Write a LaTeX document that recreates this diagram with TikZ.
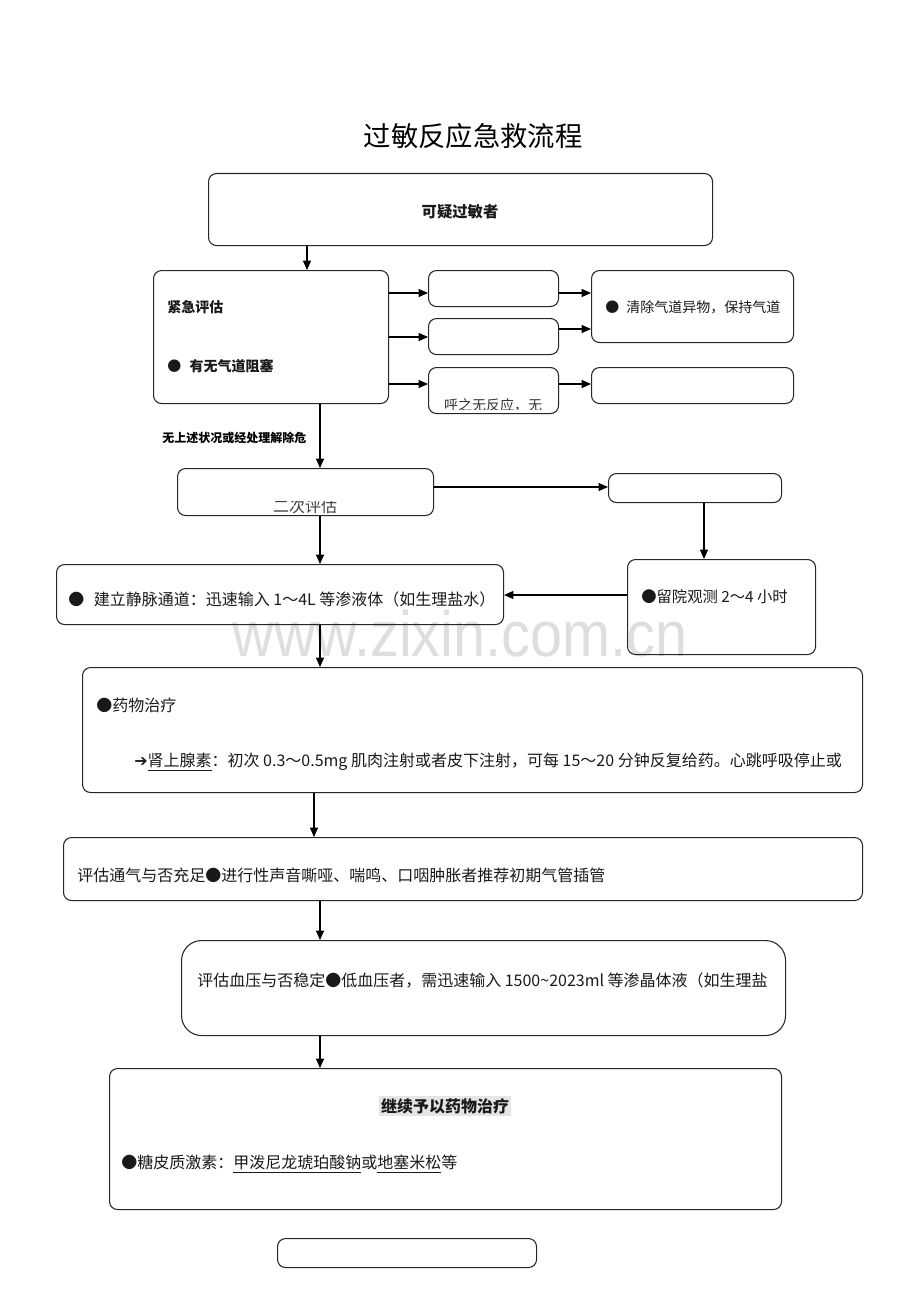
\documentclass[tikz,border=0pt]{standalone}
\usepackage{fontspec}
\setmainfont{Noto Sans CJK SC}
\newfontfamily\wm{Liberation Sans}
\newfontfamily\dv{DejaVu Sans}
\usetikzlibrary{arrows.meta,calc}
\tikzset{
  box/.style={draw=black!85, line width=0.8pt, rounded corners=6pt, anchor=north west, inner sep=0pt},
  arr/.style={draw=black, line width=0.8pt, -{Triangle[length=7pt,width=6pt]}},
  txt/.style={inner sep=0pt, font=\fontsize{12}{14}\selectfont, text=black!90},
  btxt/.style={inner sep=0pt, font=\fontsize{10.5}{13}\selectfont\bfseries, text=black!90},
}
\newcommand\bx[5]{\node[box, minimum width=#4*0.75pt, minimum height=#5*0.75pt] (#1) at (#2,#3) {};}
\begin{document}
\begin{tikzpicture}[x=0.75pt,y=-0.75pt]
\useasboundingbox (0,0) rectangle (920,1302);
% title
\node[inner sep=0pt, font=\fontsize{20.5}{24}\selectfont] (title) at (473,136) {过敏反应急救流程};
% watermark
\node[inner sep=0pt, font=\wm\fontsize{48}{52}\selectfont, text=black!13, xscale=0.9] (wmk) at (460,634) {www.zixin.com.cn};
% boxes
\bx{b1}{208}{173}{504}{72}
\bx{b2}{153}{270}{235}{133}
\bx{s1}{428}{270}{130}{36}
\bx{s2}{428}{318}{130}{36}
\bx{s3}{428}{367}{130}{46}
\bx{r1}{591}{270}{202}{72}
\bx{r3}{591}{367}{202}{36}
\bx{b3}{177}{468}{256}{47}
\bx{r4}{608}{473}{173}{29}
\bx{r5}{627}{559}{188}{95}
\bx{b4}{56}{564}{447}{60}
\bx{b5}{82}{667}{780}{125}
\bx{b6}{63}{837}{799}{63}
\node[box, rounded corners=15pt, minimum width=604*0.75pt, minimum height=95*0.75pt] (b7) at (181,940) {};
\bx{b8}{109}{1068}{672}{141}
\bx{b9}{277}{1238}{259}{29}
% texts
\node[btxt, font=\fontsize{11.5}{13}\selectfont\bfseries] (t1) at (460,212) {可疑过敏者};
\node[btxt, anchor=west] (t2a) at (167,307) {紧急评估};
\node[btxt, anchor=west] (t2b) at (167,366) {●\hspace{0.6em}有无气道阻塞};
\node[txt, font=\fontsize{10.5}{13}\selectfont, anchor=west] (tr1) at (605,307) {●\hspace{0.5em}清除气道异物，保持气道};
\begin{scope}
\clip (430,395) rectangle (556,409);
\node[txt, font=\fontsize{10.5}{13}\selectfont, text=black!80] (ts3) at (493,405) {呼之无反应，无};
\end{scope}
\begin{scope}
\clip (200,501.6) rectangle (420,513);
\node[txt, text=black!75] (tb3) at (305,506) {二次评估};
\end{scope}
\node[inner sep=0pt, font=\fontsize{9}{10}\selectfont\bfseries, anchor=west] (lab) at (162,438) {无上述状况或经处理解除危};
\node[txt, font=\fontsize{11.5}{13}\selectfont, anchor=west] (tr5) at (641,597) {●留院观测 2～4 小时};
\node[txt, anchor=west] (tb4) at (68,599) {●\hspace{0.6em}建立静脉通道：迅速输入 1～4L 等渗液体（如生理盐水）};
\node[txt, anchor=west] (tb5a) at (96,705) {●药物治疗};
\node[txt, anchor=west] (tb5b) at (134,762) {{\dv ➔}\underline{肾上腺素}：初次 0.3～0.5mg 肌肉注射或者皮下注射，可每 15～20 分钟反复给药。心跳呼吸停止或};
\node[txt, anchor=west] (tb6) at (77,875) {评估通气与否充足●进行性声音嘶哑、喘鸣、口咽肿胀者推荐初期气管插管};
\node[txt, anchor=west] (tb7) at (197,980) {评估血压与否稳定●低血压者，需迅速输入 1500\textasciitilde 2023ml 等渗晶体液（如生理盐};
\node[btxt, font=\fontsize{12}{14}\selectfont\bfseries] (tb8a) at (445,1106) {\setlength{\fboxsep}{1.5pt}\colorbox{black!10}{继续予以药物治疗}};
\node[txt, anchor=west] (tb8b) at (121,1164) {●糖皮质激素：\underline{甲泼尼龙琥珀酸钠}或\underline{地塞米松}等};
% coordinates for arrows
\coordinate (x307) at (307,0);
\coordinate (x320) at (320,0);
\coordinate (x314) at (314,0);
\coordinate (x704) at (704,0);
\coordinate (y293) at (0,293);
\coordinate (y337) at (0,337);
\coordinate (y384) at (0,384);
\coordinate (y329) at (0,329);
\coordinate (y487) at (0,487);
\coordinate (y595) at (0,595);
% arrows
\draw[arr] (b1.south -| x307) -- (b2.north -| x307);
\draw[arr] (b2.east |- y293) -- (s1.west |- y293);
\draw[arr] (b2.east |- y337) -- (s2.west |- y337);
\draw[arr] (b2.east |- y384) -- (s3.west |- y384);
\draw[arr] (s1.east |- y293) -- (r1.west |- y293);
\draw[arr] (s2.east |- y329) -- (r1.west |- y329);
\draw[arr] (s3.east |- y384) -- (r3.west |- y384);
\draw[arr] (b2.south -| x320) -- (b3.north -| x320);
\draw[arr] (b3.east |- y487) -- (r4.west |- y487);
\draw[arr] (r4.south -| x704) -- (r5.north -| x704);
\draw[arr] (r5.west |- y595) -- (b4.east |- y595);
\draw[arr] (b3.south -| x320) -- (b4.north -| x320);
\draw[arr] (b4.south -| x320) -- (b5.north -| x320);
\draw[arr] (b5.south -| x314) -- (b6.north -| x314);
\draw[arr] (b6.south -| x320) -- (b7.north -| x320);
\draw[arr] (b7.south -| x320) -- (b8.north -| x320);
\end{tikzpicture}
\end{document}
